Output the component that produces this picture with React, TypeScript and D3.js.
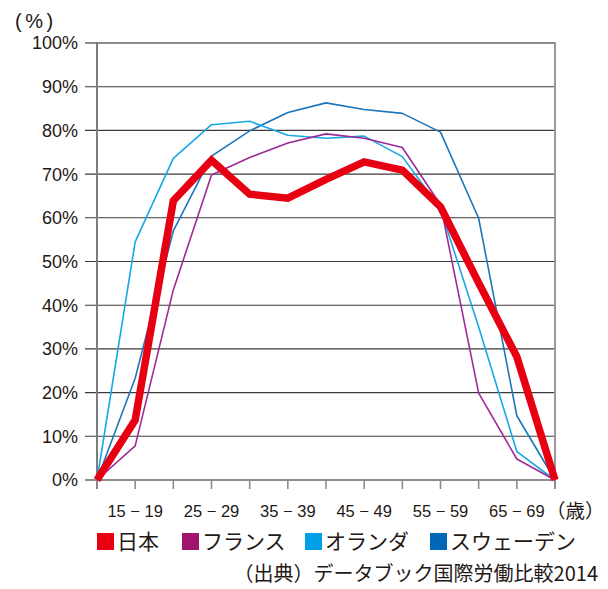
import React from "react";
import * as d3 from "d3";

const ageLabels = ["", "15 − 19", "20 − 24", "25 − 29", "30 − 34", "35 − 39", "40 − 44", "45 − 49", "50 − 54", "55 − 59", "60 − 64", "65 − 69", ""];
const shownLabels = [false, true, false, true, false, true, false, true, false, true, false, true, false];
const yTicks = [0, 10, 20, 30, 40, 50, 60, 70, 80, 90, 100];

const japan = [0, 13.7, 63.9, 73.2, 65.4, 64.5, 68.8, 72.8, 70.9, 62.5, 45.1, 28.2, 0];
const france = [0, 7.8, 43.5, 69.8, 73.8, 77.1, 79.2, 78.2, 76.1, 63.0, 19.9, 4.8, 0];
const netherlands = [0, 54.5, 73.6, 81.3, 82.1, 78.9, 78.2, 78.7, 74.0, 62.0, 35.0, 6.5, 0];
const sweden = [0, 23.3, 57.0, 74.1, 79.9, 84.1, 86.3, 84.8, 83.9, 79.6, 59.9, 14.7, 0];

const seriesNames = ["日本", "フランス", "オランダ", "スウェーデン"];
const seriesColors = ["#e60012", "#a0146e", "#00a0e9", "#0068b7"];
const lineColors = ["#e60012", "#9e2a96", "#16a8e6", "#1b76bd"];

const W = 608;
const H = 589;
const plotL = 97;
const plotR = 555;
const plotT = 43;
const plotB = 480;

const numFont = "'Liberation Sans', Arial, sans-serif";
const jpFont = "'Noto Sans CJK JP', 'Noto Sans', sans-serif";
const textColor = "#231815";

export default function App() {
  const x = d3.scalePoint<number>().domain(d3.range(ageLabels.length)).range([plotL, plotR]);
  const y = d3.scaleLinear().domain([0, 100]).range([plotB, plotT]);
  const line = d3
    .line<number>()
    .x((_, i) => x(i) as number)
    .y((d) => y(d));

  const data = [japan, france, netherlands, sweden];
  const drawOrder = [3, 2, 1, 0];

  const legendX = [97, 182, 305, 430];

  return (
    <svg width={W} height={H} style={{ position: "absolute", left: 0, top: 0, background: "#fff" }}>
      <text x={15} y={28} fontFamily={numFont} fontSize={20} letterSpacing={3.5} fill={textColor}>
        (%)
      </text>
      {yTicks.map((t) => (
        <g key={t}>
          <line
            x1={85}
            x2={plotR}
            y1={y(t)}
            y2={y(t)}
            stroke={t === 100 || t === 0 ? "#8c8c8c" : "#3e3a39"}
            strokeWidth={t === 100 || t === 0 ? 2 : 1.1}
          />
          <text
            x={78}
            y={y(t)}
            dy="0.36em"
            textAnchor="end"
            fontFamily={numFont}
            fontSize={18}
            fill={textColor}
          >
            {t}%
          </text>
        </g>
      ))}
      <line x1={plotL} x2={plotL} y1={plotT - 1} y2={plotB + 9} stroke="#7d7d7d" strokeWidth={2} />
      <line x1={plotR} x2={plotR} y1={plotT - 1} y2={plotB + 9} stroke="#9a9a9a" strokeWidth={2} />
      {ageLabels.map((lab, i) => (
        <g key={i}>
          <line x1={x(i)} x2={x(i)} y1={plotB} y2={plotB + 9} stroke="#8c8c8c" strokeWidth={1.6} />
          {shownLabels[i] && (
            <text
              x={x(i)}
              y={517}
              textAnchor="middle"
              fontFamily={numFont}
              fontSize={16.5}
              fill={textColor}
            >
              {lab}
            </text>
          )}
        </g>
      ))}
      <text x={546} y={518} fontFamily={jpFont} fontSize={19.5} fill={textColor}>
        （歳）
      </text>
      {drawOrder.map((k) => (
        <path
          key={k}
          d={line(data[k]) || ""}
          fill="none"
          stroke={lineColors[k]}
          strokeWidth={k === 0 ? 7.5 : 1.6}
          strokeLinejoin={k === 0 ? "miter" : "round"}
          strokeMiterlimit={3}
        />
      ))}
      {seriesNames.map((name, k) => (
        <g key={name}>
          <rect x={legendX[k]} y={533} width={17} height={17} fill={seriesColors[k]} />
          <text x={legendX[k] + 20} y={549} fontFamily={jpFont} fontSize={21} fill={textColor}>
            {name}
          </text>
        </g>
      ))}
      <text x={598} y={581} textAnchor="end" fontFamily={jpFont} fontSize={20} fill={textColor}>
        （出典）データブック国際労働比較2014
      </text>
    </svg>
  );
}
